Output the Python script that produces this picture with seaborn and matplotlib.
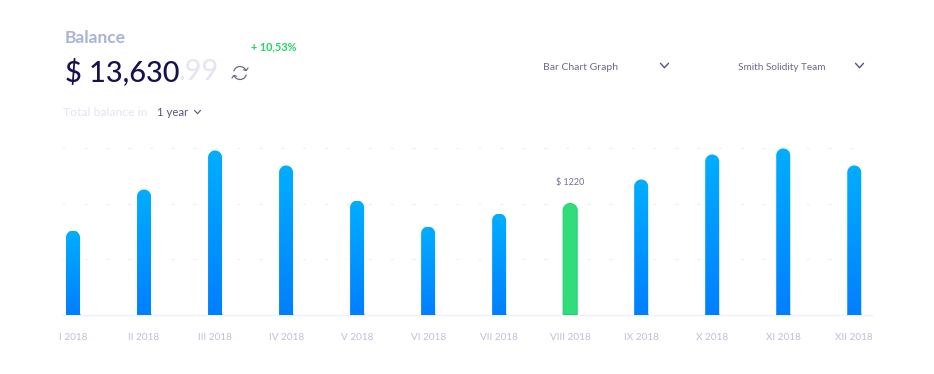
import numpy as np
import matplotlib
matplotlib.use("Agg")
import matplotlib.pyplot as plt
import seaborn as sns
from matplotlib.colors import to_rgb, LinearSegmentedColormap
from matplotlib.lines import Line2D
from matplotlib.patches import Arc, PathPatch
from matplotlib.path import Path

months = ["I 2018", "II 2018", "III 2018", "IV 2018", "V 2018", "VI 2018",
          "VII 2018", "VIII 2018", "IX 2018", "X 2018", "XI 2018", "XII 2018"]
balance = [923, 1374, 1803, 1638, 1253, 967, 1110, 1220, 1484, 1759, 1825, 1638]
grid_values = [610, 1220, 1830]
highlight = "VIII 2018"

W, H = 934, 374
BAR_W = 14 / 71

sns.set_theme(style="white")
plt.rcParams["font.family"] = ["Lato", "DejaVu Sans"]

fig = plt.figure(figsize=(W / 100, H / 100), dpi=100, facecolor="white")
ax = fig.add_axes([62 / W, 1 - 314.5 / H, 810 / W, 174.5 / H])

sns.barplot(x=months, y=balance, width=BAR_W, color="#0090ff", ax=ax, zorder=3)
ax.set_xlim(-0.155, 11.25)
ax.set_ylim(0, 1918)


def bar_cap(x0, x1, top):
    # round cap of a bar, in data units
    rx = (x1 - x0) / 2
    ry = 7 * 10.99
    t = np.linspace(np.pi, 0, 24)
    return (x0 + x1) / 2 + rx * np.cos(t), top - ry + ry * np.sin(t)


def rounded_bar(x0, x1, top):
    xs, ys = bar_cap(x0, x1, top)
    pts = np.column_stack([np.r_[x0, xs, x1, x0], np.r_[0, ys, 0, 0]])
    return Path(pts, closed=True)


# swap the flat bars for gradient ones, a white mask round them makes the shape
for bar, month in zip(list(ax.patches), months):
    x0, x1, top = bar.get_x(), bar.get_x() + bar.get_width(), bar.get_height()
    bar.set_visible(False)
    is_hl = month == highlight
    cols = ["#31dc7b", "#31dc7b"] if is_hl else ["#00aeff", "#007fff"]
    cmap = LinearSegmentedColormap.from_list("bar", [to_rgb(c) for c in cols])
    ax.imshow(np.linspace(0, 1, 128).reshape(-1, 1), cmap=cmap, aspect="auto",
              extent=[x0, x1, 0, top], origin="upper", zorder=3)
    xs, ys = bar_cap(x0, x1, top)
    pad_x, pad_y = 0.02, 20
    ax.fill(np.r_[x0 - pad_x, x0, xs, x1, x1 + pad_x, x1 + pad_x, x0 - pad_x],
            np.r_[0, 0, ys, 0, 0, top + pad_y, top + pad_y],
            color="white", lw=0, zorder=4)
    if is_hl:
        ax.add_patch(PathPatch(rounded_bar(x0, x1, top), facecolor="none",
                               edgecolor="#22d36a", lw=0.8, zorder=5))
        ax.annotate(f"$ {top:.0f}", xy=((x0 + x1) / 2, top), xytext=(0, 15),
                    textcoords="offset points", ha="center", va="center",
                    fontsize=6.5, color="#6f6f96")

ax.set_xlim(-0.155, 11.25)
ax.set_ylim(0, 1918)

for v in grid_values:
    ax.axhline(v, color="#eceef7", lw=0.8, dashes=(2.7, 17), zorder=1)

sns.despine(ax=ax, left=True)
ax.spines["bottom"].set_color("#eef0fb")
ax.spines["bottom"].set_linewidth(1)
ax.set_yticks([])
ax.tick_params(axis="x", length=0, pad=13, labelsize=7.2, labelcolor="#bfbfdb")


def label(px, py, s, **kw):
    fig.text(px / W, 1 - py / H, s, va="center", **kw)


def chevron(px, py, half, color, lw=1.0):
    fig.add_artist(Line2D([(px - half) / W, px / W, (px + half) / W],
                          [1 - (py - half * 0.55) / H, 1 - (py + half * 0.55) / H,
                           1 - (py - half * 0.55) / H],
                          color=color, lw=lw, transform=fig.transFigure))


label(65, 38, "Balance", fontsize=12.5, fontweight="bold", color="#a9b4d6")
label(251, 47, "+ 10,53%", fontsize=7.8, fontweight="bold", color="#1fd65f")
label(65, 72, "$ 13,630", fontsize=20.8, color="#14124f", fontweight="medium")
label(179, 72, ".99", fontsize=20.8, color="#e6e6f3", fontweight="medium")
label(63, 112, "Total balance in", fontsize=8.8, color="#e4e4f3")
label(157, 112, "1 year", fontsize=8.2, color="#55557f")
label(543, 67, "Bar Chart Graph", fontsize=7.5, color="#6a6a94")
label(738, 67, "Smith Solidity Team", fontsize=7.2, color="#6a6a94")

chevron(197.5, 112, 3, "#55557f", 0.8)
chevron(664.5, 65.5, 4, "#55557f")
chevron(859.5, 65.5, 4, "#55557f")

# refresh icon
icon = fig.add_axes([230 / W, 1 - 83 / H, 20 / W, 20 / H])
icon.set_xlim(-10, 10)
icon.set_ylim(-10, 10)
icon.axis("off")
icon.add_patch(Arc((0, 0), 13, 13, theta1=25, theta2=165, color="#6a6a85", lw=0.9))
icon.add_patch(Arc((0, 0), 13, 13, theta1=205, theta2=345, color="#6a6a85", lw=0.9))
icon.plot([3.5, 6.2, 8], [3.2, 2.4, 5], color="#6a6a85", lw=0.9)
icon.plot([-3.5, -6.2, -8], [-3.2, -2.4, -5], color="#6a6a85", lw=0.9)

fig.savefig("out.png", dpi=100, facecolor="white")
